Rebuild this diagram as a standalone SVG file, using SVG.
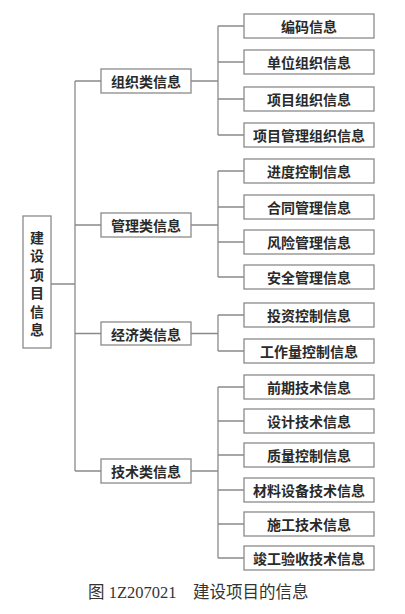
<svg xmlns="http://www.w3.org/2000/svg" width="405" height="614" viewBox="0 0 405 614">
<style>
  .box { fill: #ffffff; stroke: #8a8a8a; stroke-width: 1.3; }
  .t { font-family: "Noto Sans CJK SC", sans-serif; font-size: 14px; font-weight: bold; fill: #2a2a2a; text-anchor: middle; dominant-baseline: central; }
  .vt { font-family: "Noto Sans CJK SC", sans-serif; font-size: 14px; font-weight: bold; fill: #2a2a2a; text-anchor: middle; writing-mode: tb; letter-spacing: 4.5px; }
  .ln { fill: none; stroke: #8a8a8a; stroke-width: 1.3; }
  .cap { font-family: "Liberation Serif", "Noto Sans CJK SC", serif; font-size: 16.5px; fill: #333; }
</style>
<rect width="405" height="614" fill="#ffffff"/>
<g id="connectors">
  <path class="ln" d="M51 284 H75 M75 81 V471 M75 81 H101 M75 225 H101 M75 333.5 H101 M75 471 H101"/>
  <path class="ln" d="M191 81 H218 M218 26 V135 M218 26 H244 M218 62 H244 M218 99 H244 M218 135 H244"/>
  <path class="ln" d="M191 225 H218 M218 171 V277 M218 171 H244 M218 207 H244 M218 242 H244 M218 277 H244"/>
  <path class="ln" d="M191 333.5 H218 M218 315 V351 M218 315 H244 M218 351 H244"/>
  <path class="ln" d="M191 471 H218 M218 387 V558 M218 387 H244 M218 421 H244 M218 455 H244 M218 490 H244 M218 524 H244 M218 558 H244"/>
</g>
<g id="root">
  <rect class="box" x="23" y="216" width="28" height="132"/>
  <text class="vt" x="37" y="286">建设项目信息</text>
</g>
<g id="cat1"><rect class="box" x="101" y="69" width="90" height="24"/><text class="t" x="146" y="81">组织类信息</text></g>
<g id="cat2"><rect class="box" x="101" y="213" width="90" height="24"/><text class="t" x="146" y="225">管理类信息</text></g>
<g id="cat3"><rect class="box" x="101" y="322" width="90" height="23"/><text class="t" x="146" y="333.5">经济类信息</text></g>
<g id="cat4"><rect class="box" x="101" y="459" width="90" height="24"/><text class="t" x="146" y="471">技术类信息</text></g>
<g id="leaf1"><rect class="box" x="244" y="14" width="130" height="24"/><text class="t" x="309" y="26">编码信息</text></g>
<g id="leaf2"><rect class="box" x="244" y="50" width="130" height="24"/><text class="t" x="309" y="62">单位组织信息</text></g>
<g id="leaf3"><rect class="box" x="244" y="87" width="130" height="24"/><text class="t" x="309" y="99">项目组织信息</text></g>
<g id="leaf4"><rect class="box" x="244" y="123" width="130" height="24"/><text class="t" x="309" y="135">项目管理组织信息</text></g>
<g id="leaf5"><rect class="box" x="244" y="159" width="130" height="24"/><text class="t" x="309" y="171">进度控制信息</text></g>
<g id="leaf6"><rect class="box" x="244" y="195" width="130" height="24"/><text class="t" x="309" y="207">合同管理信息</text></g>
<g id="leaf7"><rect class="box" x="244" y="230" width="130" height="24"/><text class="t" x="309" y="242">风险管理信息</text></g>
<g id="leaf8"><rect class="box" x="244" y="265" width="130" height="24"/><text class="t" x="309" y="277">安全管理信息</text></g>
<g id="leaf9"><rect class="box" x="244" y="303" width="130" height="24"/><text class="t" x="309" y="315">投资控制信息</text></g>
<g id="leaf10"><rect class="box" x="244" y="339" width="130" height="24"/><text class="t" x="309" y="351">工作量控制信息</text></g>
<g id="leaf11"><rect class="box" x="244" y="375" width="130" height="24"/><text class="t" x="309" y="387">前期技术信息</text></g>
<g id="leaf12"><rect class="box" x="244" y="409" width="130" height="24"/><text class="t" x="309" y="421">设计技术信息</text></g>
<g id="leaf13"><rect class="box" x="244" y="443" width="130" height="24"/><text class="t" x="309" y="455">质量控制信息</text></g>
<g id="leaf14"><rect class="box" x="244" y="478" width="130" height="24"/><text class="t" x="309" y="490">材料设备技术信息</text></g>
<g id="leaf15"><rect class="box" x="244" y="512" width="130" height="24"/><text class="t" x="309" y="524">施工技术信息</text></g>
<g id="leaf16"><rect class="box" x="244" y="546" width="130" height="24"/><text class="t" x="309" y="558">竣工验收技术信息</text></g>
<text class="cap" x="88" y="598">图 1Z207021　建设项目的信息</text>
</svg>
